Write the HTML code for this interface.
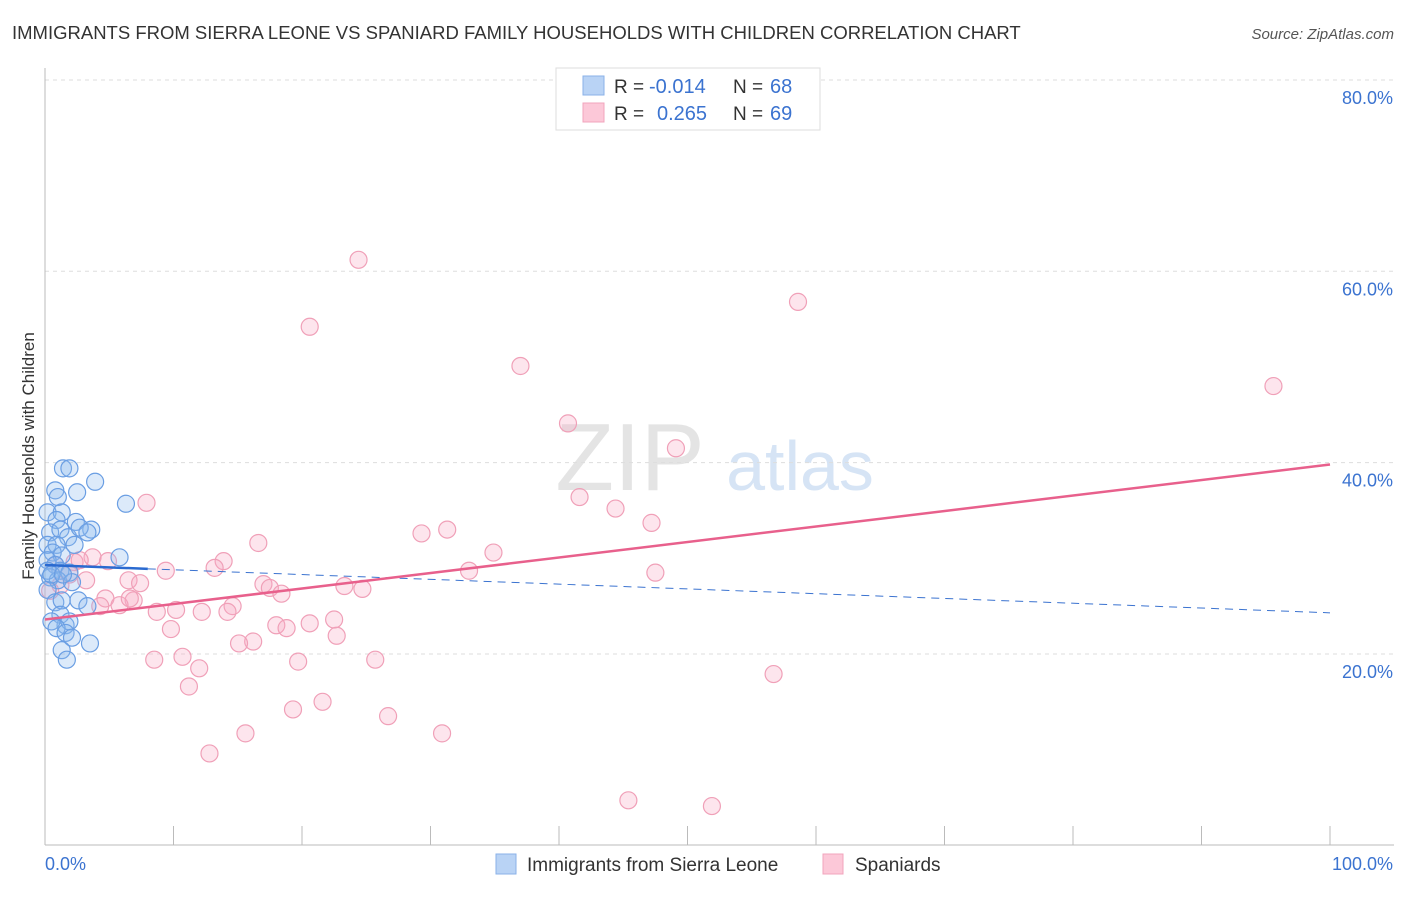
<!DOCTYPE html>
<html><head><meta charset="utf-8"><style>
body{margin:0;background:#fff;font-family:"Liberation Sans",sans-serif}
svg text{font-family:"Liberation Sans",sans-serif}
</style></head><body>
<svg id="chart" width="1406" height="892">
<text x="12" y="39" font-size="18.5" fill="#333">IMMIGRANTS FROM SIERRA LEONE VS SPANIARD FAMILY HOUSEHOLDS WITH CHILDREN CORRELATION CHART</text>
<text x="1394" y="39" font-size="15" fill="#555" text-anchor="end" font-style="italic">Source: ZipAtlas.com</text>
<text x="630" y="490" font-size="96" fill="#e4e4e4" font-family="Liberation Serif" text-anchor="middle">ZIP</text>
<text x="800" y="490" font-size="70" fill="#d6e4f5" text-anchor="middle">atlas</text>
<g id="grid"></g><g id="axes"></g><g id="pts"></g><g id="lines"></g>
<text transform="translate(34,456) rotate(-90)" font-size="17" fill="#333" text-anchor="middle">Family Households with Children</text>
<g>
<rect x="556" y="68" width="264" height="62" fill="#fff" stroke="#ddd"/>
<rect x="583" y="76" width="21" height="19" fill="#b9d3f5" stroke="#8ab2e8"/>
<rect x="583" y="103" width="21" height="19" fill="#fcc8d8" stroke="#f2a4bc"/>
<text x="614" y="93" font-size="19" fill="#333">R =</text>
<text x="649" y="93" font-size="20" fill="#3b73d0">-0.014</text>
<text x="733" y="93" font-size="19" fill="#333">N =</text>
<text x="770" y="93" font-size="20" fill="#3b73d0">68</text>
<text x="614" y="120" font-size="19" fill="#333">R =</text>
<text x="657" y="120" font-size="20" fill="#3b73d0">0.265</text>
<text x="733" y="120" font-size="19" fill="#333">N =</text>
<text x="770" y="120" font-size="20" fill="#3b73d0">69</text>
</g>
<g>
<rect x="496" y="854" width="20" height="20" fill="#b9d3f5" stroke="#8ab2e8"/>
<text x="527" y="871" font-size="19" fill="#333">Immigrants from Sierra Leone</text>
<rect x="823" y="854" width="20" height="20" fill="#fcc8d8" stroke="#f2a4bc"/>
<text x="855" y="871" font-size="19" fill="#333">Spaniards</text>
</g>
</svg>
<script>
const yTicks=[20,40,60,80];
const yTickLabels=["20.0%","40.0%","60.0%","80.0%"];
const xTickLabels=["0.0%","100.0%"];
const blueX=[1.4,1.9,0.8,1.0,2.5,3.9,6.3,0.2,1.3,0.9,2.4,3.6,0.4,1.2,1.8,0.2,0.9,2.3,0.6,1.3,5.8,0.2,0.8,1.2,1.9,0.4,1.0,2.1,0.2,2.6,0.8,1.3,3.3,1.2,1.6,1.9,0.5,0.9,1.6,2.1,3.5,1.3,1.7,0.2,0.5,1.4,2.7,3.3];
const blueY=[39.4,39.4,37.1,36.4,36.9,38.0,35.7,34.8,34.8,34.0,33.8,33.0,32.7,33.0,32.2,31.4,31.4,31.4,30.6,30.3,30.1,29.8,29.3,28.7,28.5,28.0,27.7,27.5,26.7,25.6,25.4,25.6,25.0,24.1,23.0,23.4,23.4,22.7,22.2,21.7,21.1,20.4,19.4,28.7,28.3,28.3,33.2,32.7];
const pinkX=[24.4,20.6,58.6,37.0,95.6,40.7,49.1,7.9,41.6,44.4,47.2,31.3,29.3,16.6,34.9,3.7,2.3,4.9,13.9,13.2,9.4,33.0,47.5,6.5,3.2,7.4,17.0,17.5,18.4,23.3,24.7,4.7,6.9,5.8,4.3,14.6,14.2,10.2,8.7,12.2,22.5,20.6,18.0,18.8,9.8,22.7,16.2,15.1,8.5,10.7,19.7,25.7,12.0,11.2,56.7,19.3,21.6,26.7,15.6,30.9,12.8,45.4,51.9,1.2,1.9,0.8,2.7,6.6,0.4];
const pinkY=[61.2,54.2,56.8,50.1,48.0,44.1,41.5,35.8,36.4,35.2,33.7,33.0,32.6,31.6,30.6,30.1,29.6,29.7,29.7,29.0,28.7,28.7,28.5,27.7,27.7,27.4,27.3,26.9,26.3,27.1,26.8,25.8,25.6,25.1,25.0,25.0,24.4,24.6,24.4,24.4,23.6,23.2,23.0,22.7,22.6,21.9,21.3,21.1,19.4,19.7,19.2,19.4,18.5,16.6,17.9,14.2,15.0,13.5,11.7,11.7,9.6,4.7,4.1,27.2,28.3,29.3,29.8,25.8,26.6];
const pinkTrend=[23.6,39.8];
const blueTrend=[29.3,24.3];
const blueSolidEnd=8;
const NS="http://www.w3.org/2000/svg";
const X=v=>45+v*12.85, Y=v=>845.3-v*9.567;
function mk(t,a,p){const e=document.createElementNS(NS,t);for(const k in a)e.setAttribute(k,a[k]);document.getElementById(p).appendChild(e);return e;}
yTicks.forEach((t,i)=>{
 const g=mk('line',{x1:45,x2:1394,y1:Y(t),y2:Y(t),stroke:'#ddd','stroke-dasharray':'4,4'},'grid');
 
 
 const l=mk('text',{x:1393,y:Y(t)+24,'font-size':18,fill:'#3b73d0','text-anchor':'end'},'axes');
 l.textContent=yTickLabels[i];
 
 
});
const ax=mk('line',{x1:45,x2:45,y1:68,y2:845,stroke:'#bbb'},'axes');


const bx=mk('line',{x1:45,x2:1394,y1:845,y2:845,stroke:'#bbb'},'axes');


for(let i=1;i<=10;i++){const t=mk('line',{x1:X(i*10),x2:X(i*10),y1:826,y2:845,stroke:'#bbb'},'axes');
 
 }
[[0,45,'start'],[1,1393,'end']].forEach(([i,x,a])=>{const l=mk('text',{x:x,y:870,'font-size':18,fill:'#3b73d0','text-anchor':a},'axes');l.textContent=xTickLabels[i];
 
 });
pinkX.forEach((v,i)=>{const c=mk('circle',{cx:X(v),cy:Y(pinkY[i]),r:8.5,fill:'rgba(248,170,195,0.3)',stroke:'#f0a0b8','stroke-width':1.2},'pts');
 
 });
blueX.forEach((v,i)=>{const c=mk('circle',{cx:X(v),cy:Y(blueY[i]),r:8.5,fill:'rgba(140,185,240,0.3)',stroke:'#6a9ee3','stroke-width':1.2},'pts');
 
 });
const bY=x=>blueTrend[0]+(blueTrend[1]-blueTrend[0])*x/100;
const bd=mk('line',{x1:X(blueSolidEnd),y1:Y(bY(blueSolidEnd)),x2:X(100),y2:Y(blueTrend[1]),stroke:'#3b73d0','stroke-width':1,'stroke-dasharray':'8,6'},'lines');


const bs=mk('line',{x1:X(0),y1:Y(blueTrend[0]),x2:X(blueSolidEnd),y2:Y(bY(blueSolidEnd)),stroke:'#2a6ad0','stroke-width':2.5},'lines');


const pt=mk('line',{x1:X(0),y1:Y(pinkTrend[0]),x2:X(100),y2:Y(pinkTrend[1]),stroke:'#e8608c','stroke-width':2.5},'lines');


</script>
</body></html>
